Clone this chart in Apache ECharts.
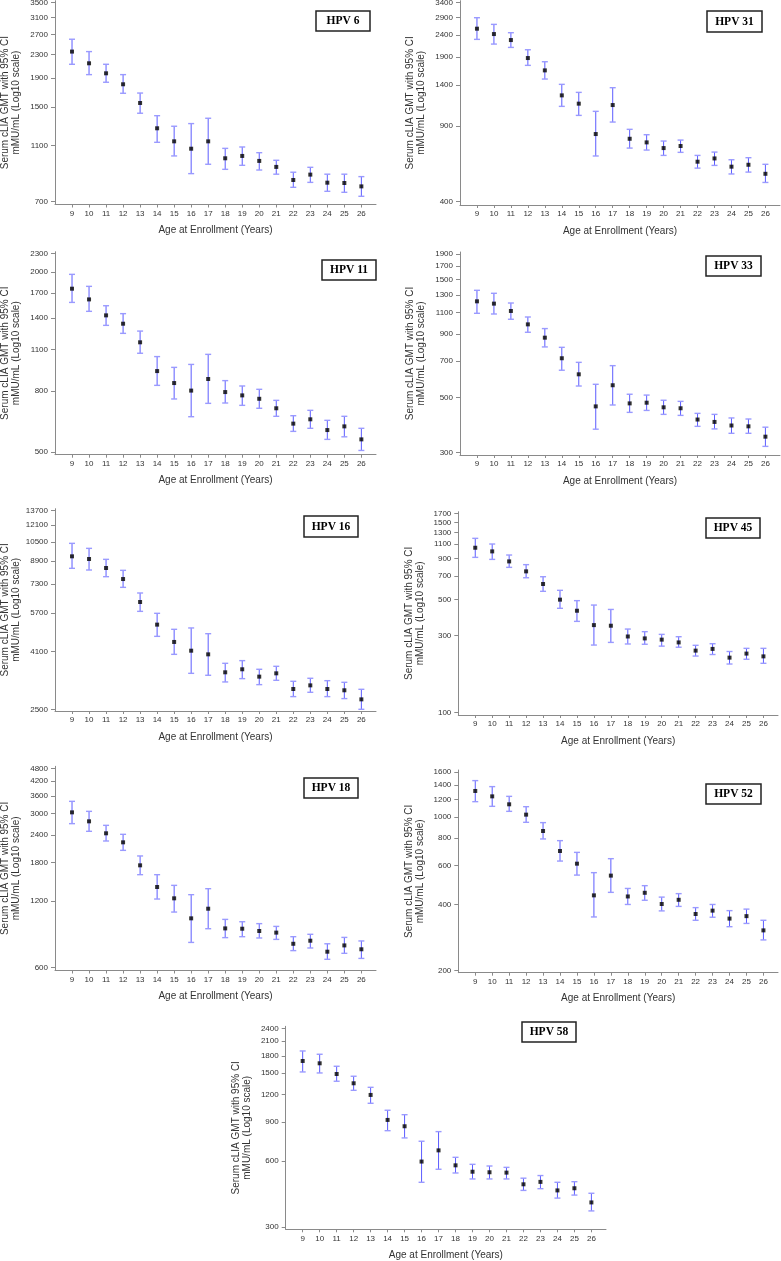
<!DOCTYPE html>
<html>
<head>
<meta charset="utf-8">
<script src="https://cdn.jsdelivr.net/npm/echarts@6/dist/echarts.min.js"></script>
<style>
html,body{margin:0;padding:0;background:#fff;}
#chart{width:781px;height:1261px;}
</style>
</head>
<body>
<div id="chart"></div>
<script>
// ---------- DATA ----------
const ages = [9,10,11,12,13,14,15,16,17,18,19,20,21,22,23,24,25,26];

const hpv6_gmt = [2355,2142,1975,1807,1553,1265,1138,1072,1138,992,1011,971,925,832,869,814,812,790];
const hpv6_lo  = [2125,1954,1837,1680,1429,1129,1011,876,945,907,937,902,872,784,816,759,753,729];
const hpv6_hi  = [2603,2355,2125,1954,1683,1401,1286,1314,1372,1075,1087,1038,976,886,922,872,872,855];
const hpv6_ticks = [700,1100,1500,1900,2300,2700,3100,3500];

const hpv31_gmt = [2571,2427,2275,1875,1642,1255,1148,828,1131,787,757,712,728,615,637,583,595,540];
const hpv31_lo  = [2292,2179,2102,1733,1496,1115,1012,654,942,712,697,658,680,574,591,539,550,492];
const hpv31_hi  = [2893,2693,2462,2050,1802,1413,1296,1057,1363,871,822,768,776,658,682,628,642,598];
const hpv31_ticks = [400,900,1400,1900,2400,2900,3400];

const hpv11_gmt = [1757,1618,1431,1342,1163,932,850,802,877,793,773,753,700,622,643,592,609,551];
const hpv11_lo  = [1581,1476,1325,1246,1069,835,752,656,727,729,716,700,658,586,600,551,562,506];
const hpv11_hi  = [1962,1789,1541,1450,1268,1042,959,981,1060,866,831,810,744,661,689,638,658,600];
const hpv11_ticks = [500,800,1100,1400,1700,2000,2300];

const hpv33_gmt = [1223,1197,1118,987,872,720,620,460,560,473,476,456,452,407,398,385,382,347];
const hpv33_lo  = [1094,1087,1035,917,800,644,556,372,466,435,443,427,423,382,373,358,358,317];
const hpv33_hi  = [1355,1318,1204,1057,949,797,693,565,672,515,511,487,482,431,427,413,409,379];
const hpv33_ticks = [300,500,700,900,1100,1300,1500,1700,1900];

const hpv16_gmt = [9268,9057,8388,7630,6268,5163,4451,4130,4003,3432,3522,3307,3402,2975,3069,2975,2942,2722];
const hpv16_lo  = [8363,8243,7785,7105,5785,4670,4003,3402,3346,3160,3251,3088,3205,2787,2892,2787,2740,2500];
const hpv16_hi  = [10358,9923,9032,8220,6770,5688,4960,5018,4778,3707,3793,3522,3613,3178,3261,3195,3150,2967];
const hpv16_ticks = [2500,4100,5700,7300,8900,10500,12100,13700];

const hpv45_gmt = [1047,994,862,748,625,500,427,348,345,296,288,283,272,242,248,219,232,223];
const hpv45_lo  = [913,887,792,683,563,442,367,262,272,266,265,258,254,224,229,200,214,202];
const hpv45_hi  = [1197,1104,944,823,693,571,493,463,435,329,317,305,295,261,267,239,250,250];
const hpv45_ticks = [100,300,500,700,900,1100,1300,1500,1700];

const hpv18_gmt = [3032,2761,2437,2218,1745,1392,1237,1004,1110,904,901,880,865,770,795,709,757,727];
const hpv18_lo  = [2695,2488,2249,2040,1583,1228,1072,781,901,821,829,818,806,717,737,655,697,661];
const hpv18_hi  = [3401,3064,2648,2411,1924,1583,1416,1285,1368,993,969,950,923,829,850,770,823,793];
const hpv18_ticks = [600,1200,1800,2400,3000,3600,4200,4800];

const hpv52_gmt = [1312,1240,1141,1024,863,700,613,440,541,435,452,402,420,362,375,345,354,305];
const hpv52_lo  = [1173,1117,1060,945,794,630,544,351,454,400,418,374,392,339,350,317,328,276];
const hpv52_hi  = [1462,1373,1240,1113,942,780,690,558,646,473,487,432,448,387,400,375,381,339];
const hpv52_ticks = [200,400,600,800,1000,1200,1400,1600];

const hpv58_gmt = [1705,1664,1488,1350,1195,920,861,595,669,572,535,532,530,469,481,440,450,388];
const hpv58_lo  = [1520,1504,1379,1254,1095,822,762,479,549,528,496,496,496,440,448,406,419,355];
const hpv58_hi  = [1893,1829,1613,1453,1294,1018,972,736,814,622,578,568,560,500,514,479,482,427];
const hpv58_ticks = [300,600,900,1200,1500,1800,2100,2400];

const panelNames = ['HPV 6','HPV 31','HPV 11','HPV 33','HPV 16','HPV 45','HPV 18','HPV 52','HPV 58'];
const xTitle = 'Age at Enrollment (Years)';
const yTitle = 'Serum cLIA GMT with 95% CI\nmMU/mL (Log10 scale)';

// ---------- LAYOUT ----------
const panels = [
  {gmt:hpv6_gmt,  lo:hpv6_lo,  hi:hpv6_hi,  ticks:hpv6_ticks},
  {gmt:hpv31_gmt, lo:hpv31_lo, hi:hpv31_hi, ticks:hpv31_ticks},
  {gmt:hpv11_gmt, lo:hpv11_lo, hi:hpv11_hi, ticks:hpv11_ticks},
  {gmt:hpv33_gmt, lo:hpv33_lo, hi:hpv33_hi, ticks:hpv33_ticks},
  {gmt:hpv16_gmt, lo:hpv16_lo, hi:hpv16_hi, ticks:hpv16_ticks},
  {gmt:hpv45_gmt, lo:hpv45_lo, hi:hpv45_hi, ticks:hpv45_ticks},
  {gmt:hpv18_gmt, lo:hpv18_lo, hi:hpv18_hi, ticks:hpv18_ticks},
  {gmt:hpv52_gmt, lo:hpv52_lo, hi:hpv52_hi, ticks:hpv52_ticks},
  {gmt:hpv58_gmt, lo:hpv58_lo, hi:hpv58_hi, ticks:hpv58_ticks}
];
const layouts = [
  {left:55,    width:321,   topY:2.7,    lowY:201.3, axisY:204.5, box:[316,11,54,20]},
  {left:460,   width:320,   topY:2.7,    lowY:201.7, axisY:205,   box:[707,11,55,21]},
  {left:55,    width:321,   topY:253.7,  lowY:452,   axisY:454.7, box:[322,260,54,20]},
  {left:460,   width:320,   topY:254,    lowY:452.3, axisY:455,   box:[706,256,55,20]},
  {left:55,    width:321,   topY:510.7,  lowY:709.3, axisY:711,   box:[304,516,54,21]},
  {left:458.3, width:319.7, topY:513.7,  lowY:712.7, axisY:715,   box:[706,518,54,20]},
  {left:55,    width:321,   topY:768.3,  lowY:967.7, axisY:970.5, box:[304,778,54,20]},
  {left:458.3, width:319.7, topY:772,    lowY:970.7, axisY:972.7, box:[706,784,55,20]},
  {left:285.7, width:320.3, topY:1028.3, lowY:1227,  axisY:1229.3,box:[522,1022,54,20]}
];

const axisColor = '#8a8a8a';
const textColor = '#333';
const sans = '"Liberation Sans", Arial, sans-serif';
const serif = '"Liberation Serif", "Times New Roman", serif';

const grids = [], xAxes = [], yAxes = [], series = [], graphics = [];

function renderErr(params, api) {
  const x = api.value(0);
  const p1 = api.coord([x, api.value(1)]);
  const p2 = api.coord([x, api.value(2)]);
  const w = 3;
  return {
    type: 'group',
    children: [
      {type:'line', shape:{x1:p1[0], y1:p1[1], x2:p2[0], y2:p2[1]}, style:{stroke:'#5c5cff', lineWidth:1}},
      {type:'line', shape:{x1:p1[0]-w, y1:p1[1], x2:p1[0]+w, y2:p1[1]}, style:{stroke:'#9a9aff', lineWidth:1.4}},
      {type:'line', shape:{x1:p2[0]-w, y1:p2[1], x2:p2[0]+w, y2:p2[1]}, style:{stroke:'#9a9aff', lineWidth:1.4}}
    ]
  };
}

panels.forEach((p, i) => {
  const L = layouts[i];
  const lgLo = Math.log10(p.ticks[0]);
  const lgHi = Math.log10(p.ticks[p.ticks.length - 1]);
  const ppd = (L.lowY - L.topY) / (lgHi - lgLo);
  const top = L.topY - 2;
  const yMax = lgHi + 2 / ppd;
  const yMin = lgLo - (L.axisY - L.lowY) / ppd;

  grids.push({left:L.left, top:top, width:L.width, height:L.axisY - top, containLabel:false, outerBoundsMode:'none'});

  xAxes.push({
    type:'value', gridIndex:i, min:8, max:26.86,
    name:xTitle, nameLocation:'middle', nameGap:21,
    nameTextStyle:{fontFamily:sans, fontSize:10, color:textColor},
    axisLine:{show:true, lineStyle:{color:axisColor, width:1}},
    axisTick:{show:true, length:3, lineStyle:{color:axisColor}, customValues:ages},
    axisLabel:{fontFamily:sans, fontSize:8, color:textColor, margin:5, customValues:ages,
               formatter: v => String(Math.round(v))},
    splitLine:{show:false}
  });

  yAxes.push({
    type:'value', gridIndex:i, min:yMin, max:yMax,
    name:yTitle, nameLocation:'middle', nameGap:33, nameRotate:90,
    nameTextStyle:{fontFamily:sans, fontSize:10, color:textColor, lineHeight:11, align:'center'},
    axisLine:{show:true, lineStyle:{color:axisColor, width:1}},
    axisTick:{show:true, length:4, lineStyle:{color:axisColor}, customValues:p.ticks.map(v => Math.log10(v))},
    axisLabel:{fontFamily:sans, fontSize:8, color:textColor, margin:7,
               customValues:p.ticks.map(v => Math.log10(v)),
               formatter: v => String(Math.round(Math.pow(10, v)))},
    splitLine:{show:false}
  });

  series.push({
    type:'custom', xAxisIndex:i, yAxisIndex:i, renderItem:renderErr, z:2,
    encode:{x:0, y:[1,2]},
    data: ages.map((a, k) => [a, Math.log10(p.lo[k]), Math.log10(p.hi[k])]),
    silent:true, animation:false
  });
  series.push({
    type:'scatter', xAxisIndex:i, yAxisIndex:i, z:3,
    symbol:'rect', symbolSize:4,
    itemStyle:{color:'#000'},
    data: ages.map((a, k) => [a, Math.log10(p.gmt[k])]),
    silent:true, animation:false
  });

  const b = L.box;
  graphics.push({
    type:'rect', shape:{x:b[0], y:b[1], width:b[2], height:b[3]},
    style:{fill:'#fff', stroke:'#222', lineWidth:1.5}, z:10
  });
  graphics.push({
    type:'text', x:b[0] + b[2] / 2, y:b[1] + b[3] / 2 + 0.5, z:11,
    style:{text:panelNames[i], fontFamily:serif, fontWeight:'bold', fontSize:11.5,
           fill:'#000', align:'center', verticalAlign:'middle'}
  });
});

const chart = echarts.init(document.getElementById('chart'), null, {renderer:'canvas'});
chart.setOption({
  animation:false,
  backgroundColor:'#fff',
  grid:grids, xAxis:xAxes, yAxis:yAxes, series:series,
  graphic:graphics
});
</script>
</body>
</html>
